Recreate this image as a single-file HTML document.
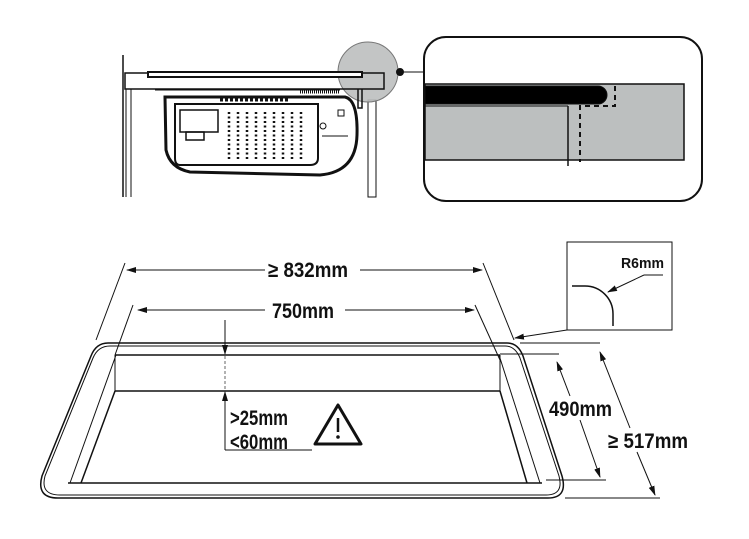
<!DOCTYPE html>
<html><head><meta charset="utf-8"><style>
html,body{margin:0;padding:0;background:#fff;}
svg{display:block;}
text{font-family:"Liberation Sans",sans-serif;font-weight:bold;fill:#111;}
</style></head><body>
<svg width="749" height="539" viewBox="0 0 749 539" xmlns="http://www.w3.org/2000/svg">
<defs>
<marker id="a" markerWidth="10" markerHeight="6" refX="9" refY="3" orient="auto" markerUnits="userSpaceOnUse"><path d="M0,0 L10,3 L0,6 Z" fill="#111"/></marker>
<marker id="b" markerWidth="10" markerHeight="6" refX="1" refY="3" orient="auto" markerUnits="userSpaceOnUse"><path d="M10,0 L0,3 L10,6 Z" fill="#111"/></marker>
</defs>
<g stroke="#111" fill="none">
<line x1="123" y1="55" x2="123" y2="197" stroke-width="1.5"/>
<line x1="126" y1="89" x2="126" y2="197"/>
<line x1="131" y1="89" x2="131" y2="197"/>
<line x1="155" y1="90" x2="340" y2="90"/>
<line x1="300" y1="92" x2="340" y2="92" stroke-width="3" stroke-dasharray="1 1"/>
<rect x="368" y="100" width="8" height="97"/>
<circle cx="368" cy="72" r="30" fill="#bcbfbf" fill-opacity="0.9" stroke="#777" stroke-width="1"/>
<rect x="125" y="73" width="259" height="16" stroke-width="1.5"/>
<rect x="148" y="72" width="214" height="5" fill="#fff" stroke-width="2"/>
<path d="M358 89 V108 H362 V89" stroke-width="1.5"/>
<path d="M165 97 H345 Q358 100 357 135 Q356 172 320 175 L190 172 Q170 168 166 150 Z" stroke-width="3"/>
<path d="M175 104 H318 V158 Q318 165 310 165 H180 Q175 165 175 158 Z" stroke-width="2"/>
<line x1="220" y1="100" x2="290" y2="100" stroke-width="3" stroke-dasharray="3 2"/>
<rect x="180" y="110" width="38" height="22" fill="#fff" stroke-width="1.5"/>
<rect x="186" y="132" width="18" height="8" stroke-width="1.5"/>
<g stroke-width="2.5" stroke-dasharray="2 2.5">
<line x1="229" y1="112" x2="229" y2="160"/><line x1="238" y1="112" x2="238" y2="160"/><line x1="247" y1="112" x2="247" y2="160"/><line x1="256" y1="112" x2="256" y2="160"/><line x1="265" y1="112" x2="265" y2="160"/><line x1="274" y1="112" x2="274" y2="160"/><line x1="283" y1="112" x2="283" y2="160"/><line x1="292" y1="112" x2="292" y2="160"/><line x1="301" y1="112" x2="301" y2="160"/>
</g>
<line x1="322" y1="136" x2="348" y2="136"/>
<circle cx="323" cy="126" r="3"/>
<rect x="338" y="110" width="6" height="6"/>
<circle cx="400" cy="72" r="3.5" fill="#111"/>
<line x1="400" y1="72" x2="424" y2="72"/>
<rect x="424" y="37" width="278" height="164" rx="22" stroke-width="2"/>
<rect x="425" y="84" width="259" height="76" fill="#bcbfbf" stroke-width="1.5"/>
<path d="M425 86 H598 A9 9 0 0 1 598 104 H425 Z" fill="#000"/>
<line x1="425" y1="106" x2="568" y2="106"/>
<line x1="568" y1="106" x2="568" y2="166" stroke-width="1.5"/>
<path d="M615 86 V106 H580 V162" stroke-dasharray="5 4" stroke-width="2"/>
<line x1="127" y1="270" x2="265" y2="270" marker-start="url(#b)"/>
<line x1="360" y1="270" x2="482" y2="270" marker-end="url(#a)"/>
<line x1="125" y1="263" x2="96" y2="340"/>
<line x1="483" y1="263" x2="514" y2="340"/>
<line x1="138" y1="310" x2="265" y2="310" marker-start="url(#b)"/>
<line x1="345" y1="310" x2="474" y2="310" marker-end="url(#a)"/>
<line x1="133" y1="305" x2="115" y2="355"/>
<line x1="475" y1="305" x2="500" y2="360"/>
<path d="M108 343 H507 Q518 343 523 356 L562 476 Q568 498 548 498 H58 Q36 498 42 476 L91 356 Q96 343 108 343 Z" stroke-width="1.5"/>
<path d="M110 346 H505 Q515 346 520 358 L559 476 Q564 495 546 495 H60 Q40 495 45 476 L93 358 Q98 346 110 346 Z"/>
<line x1="115" y1="355" x2="500" y2="355" stroke-width="1.5"/>
<line x1="115" y1="391" x2="500" y2="391" stroke-width="1.5"/>
<line x1="115" y1="355" x2="115" y2="391"/>
<line x1="500" y1="355" x2="500" y2="391"/>
<line x1="115" y1="391" x2="81" y2="483" stroke-width="1.5"/>
<line x1="500" y1="391" x2="527" y2="483" stroke-width="1.5"/>
<line x1="68" y1="483" x2="542" y2="483" stroke-width="1.5"/>
<line x1="116" y1="355" x2="70" y2="483"/>
<line x1="499" y1="355" x2="540" y2="483"/>
<line x1="225" y1="320" x2="225" y2="354" marker-end="url(#a)"/>
<line x1="225" y1="356" x2="225" y2="391" stroke-dasharray="3 2" stroke="#666"/>
<line x1="225" y1="450" x2="225" y2="392" marker-end="url(#a)"/>
<line x1="225" y1="450" x2="312" y2="450"/>
<path d="M338 405 L361 444 H315 Z" stroke-width="3" stroke-linejoin="round"/>
<line x1="338" y1="418" x2="338" y2="432" stroke-width="2.5"/>
<circle cx="338" cy="437" r="1.3" fill="#111"/>
<line x1="520" y1="343" x2="600" y2="343"/>
<line x1="500" y1="354" x2="559" y2="354"/>
<line x1="546" y1="480" x2="606" y2="480"/>
<line x1="565" y1="498" x2="660" y2="498"/>
<line x1="557" y1="362" x2="570" y2="396" marker-start="url(#b)"/>
<line x1="580" y1="420" x2="600" y2="477" marker-end="url(#a)"/>
<line x1="600" y1="352" x2="630" y2="428" marker-start="url(#b)"/>
<line x1="637" y1="452" x2="655" y2="495" marker-end="url(#a)"/>
<rect x="567" y="242" width="105" height="88" fill="#fff"/>
<path d="M572 286 H585 A28 28 0 0 1 613 314 V326" stroke-width="1.5"/>
<line x1="663" y1="275" x2="644" y2="275"/>
<line x1="644" y1="275" x2="608" y2="292" marker-end="url(#a)"/>
<line x1="567" y1="330" x2="515" y2="338" marker-end="url(#a)"/>
</g>
<text x="308" y="277" font-size="21" text-anchor="middle" textLength="80" lengthAdjust="spacingAndGlyphs">≥ 832mm</text>
<text x="303" y="318" font-size="21" text-anchor="middle" textLength="62" lengthAdjust="spacingAndGlyphs">750mm</text>
<text x="230" y="425" font-size="21" textLength="58" lengthAdjust="spacingAndGlyphs">&gt;25mm</text>
<text x="230" y="449" font-size="21" textLength="58" lengthAdjust="spacingAndGlyphs">&lt;60mm</text>
<text x="549" y="416" font-size="21" textLength="63" lengthAdjust="spacingAndGlyphs">490mm</text>
<text x="608" y="448" font-size="21" textLength="80" lengthAdjust="spacingAndGlyphs">≥ 517mm</text>
<text x="621" y="268" font-size="15" textLength="43" lengthAdjust="spacingAndGlyphs">R6mm</text>
</svg>
</body></html>
